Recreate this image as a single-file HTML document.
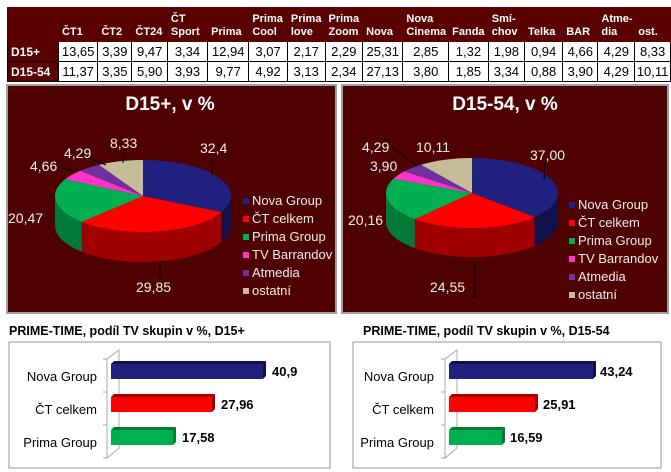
<!DOCTYPE html>
<html><head><meta charset="utf-8"><style>
body{margin:0;background:#fff;width:671px;height:472px;overflow:hidden;font-family:"Liberation Sans",sans-serif}
table{position:absolute;left:7px;top:7px;border-collapse:collapse;font-size:12px}
td{border:1px solid #000;padding:0;height:19px;text-align:center;font-size:13px}
tr.h td{background:#5a0000;color:#fff;font-weight:bold;height:31px;text-align:left;vertical-align:bottom;font-size:11px;line-height:13px;padding-left:3px;padding-bottom:2px;border-color:#5a0000}
td.r{background:#5a0000;color:#fff;font-weight:bold;text-align:left;padding-left:3px;font-size:12px}
svg{position:absolute;left:0;top:0}
</style></head><body>
<table>
<tr class="h"><td style="width:49px"></td><td style="width:36px">ČT1</td><td style="width:31px">ČT2</td><td style="width:32px">ČT24</td><td style="width:37px">ČT<br>Sport</td><td style="width:38px">Prima</td><td style="width:35px">Prima<br>Cool</td><td style="width:34px">Prima<br>love</td><td style="width:34px">Prima<br>Zoom</td><td style="width:37px">Nova</td><td style="width:42px">Nova<br>Cinema</td><td style="width:36px">Fanda</td><td style="width:33px">Smí-<br>chov</td><td style="width:35px">Telka</td><td style="width:32px">BAR</td><td style="width:33px">Atme-<br>dia</td><td style="width:32px">ost.</td></tr>
<tr><td class="r">D15+</td><td>13,65</td><td>3,39</td><td>9,47</td><td>3,34</td><td>12,94</td><td>3,07</td><td>2,17</td><td>2,29</td><td>25,31</td><td>2,85</td><td>1,32</td><td>1,98</td><td>0,94</td><td>4,66</td><td>4,29</td><td>8,33</td></tr>
<tr><td class="r">D15-54</td><td>11,37</td><td>3,35</td><td>5,90</td><td>3,93</td><td>9,77</td><td>4,92</td><td>3,13</td><td>2,34</td><td>27,13</td><td>3,80</td><td>1,85</td><td>3,34</td><td>0,88</td><td>3,90</td><td>4,29</td><td>10,11</td></tr>
</table>
<svg width="671" height="472" xmlns="http://www.w3.org/2000/svg" font-family="Liberation Sans, sans-serif">
<rect x="7" y="85" width="329" height="228" fill="#4f0000" stroke="#a0a0a0" stroke-width="2"/>
<rect x="342" y="85" width="326" height="228" fill="#4f0000" stroke="#a0a0a0" stroke-width="2"/>
<g id="p1"></g><g id="p2"></g>
<g fill="#fff" font-size="19" font-weight="bold" text-anchor="middle">
<text x="170" y="110">D15+, v %</text><text x="505" y="110">D15-54, v %</text></g>
<g fill="#eee" font-size="14">
<text x="200" y="153">32,4</text><text x="110" y="148">8,33</text><text x="64" y="158">4,29</text><text x="30" y="171">4,66</text><text x="8" y="223">20,47</text><text x="136" y="292">29,85</text>
<text x="530" y="160">37,00</text><text x="416" y="152">10,11</text><text x="362" y="152">4,29</text><text x="370" y="171">3,90</text><text x="348" y="225">20,16</text><text x="430" y="292">24,55</text>
</g>
<g stroke="#000" stroke-width="1" fill="none">
<path d="M212 158 L212 175"/><path d="M124 150 L123 163"/><path d="M90 158 L106 165"/><path d="M62 168 L77 172"/><path d="M160 262 L160 278"/>
<path d="M545 162 L544 180"/><path d="M392 147 L417 166"/><path d="M475 262 L475 297 L470 297"/>
</g>
<g font-size="13" fill="#eee">
<rect x="243" y="198" width="6" height="6" fill="#20207f"/><text x="252" y="205">Nova Group</text>
<rect x="243" y="216" width="6" height="6" fill="#f00"/><text x="252" y="223">ČT celkem</text>
<rect x="243" y="234" width="6" height="6" fill="#00b050"/><text x="252" y="241">Prima Group</text>
<rect x="243" y="252" width="6" height="6" fill="#ff33cc"/><text x="252" y="259">TV Barrandov</text>
<rect x="243" y="270" width="6" height="6" fill="#7030a0"/><text x="252" y="277">Atmedia</text>
<rect x="243" y="288" width="6" height="6" fill="#c4bd97"/><text x="252" y="295">ostatní</text>
<rect x="569" y="202" width="6" height="6" fill="#20207f"/><text x="578" y="209">Nova Group</text>
<rect x="569" y="220" width="6" height="6" fill="#f00"/><text x="578" y="227">ČT celkem</text>
<rect x="569" y="238" width="6" height="6" fill="#00b050"/><text x="578" y="245">Prima Group</text>
<rect x="569" y="256" width="6" height="6" fill="#ff33cc"/><text x="578" y="263">TV Barrandov</text>
<rect x="569" y="274" width="6" height="6" fill="#7030a0"/><text x="578" y="281">Atmedia</text>
<rect x="569" y="292" width="6" height="6" fill="#c4bd97"/><text x="578" y="299">ostatní</text>
</g>
<g font-size="12.5" font-weight="bold" fill="#000">
<text x="9" y="335">PRIME-TIME, podíl TV skupin v %, D15+</text>
<text x="363" y="335">PRIME-TIME, podíl TV skupin v %, D15-54</text></g>
<rect x="9" y="342" width="321" height="126" fill="#fff" stroke="#999"/>
<rect x="353" y="342" width="308" height="126" fill="#fff" stroke="#999"/>
<g stroke="#aaa" fill="none"><path d="M107 359 L107 458 L119 448 L119 350 L107 359"/><path d="M445 359 L445 458 L457 448 L457 350 L445 359"/>
<path d="M103 359h4M103 392h4M103 425h4M103 458h4M441 359h4M441 392h4M441 425h4M441 458h4"/></g>
<g id="bars"></g>
<g font-size="13" fill="#000" text-anchor="end">
<text x="97" y="381">Nova Group</text><text x="97" y="414">ČT celkem</text><text x="97" y="447">Prima Group</text>
<text x="434" y="381">Nova Group</text><text x="434" y="414">ČT celkem</text><text x="434" y="447">Prima Group</text></g>
<g font-size="13" font-weight="bold" fill="#000">
<text x="272" y="376">40,9</text><text x="221" y="409">27,96</text><text x="182" y="442">17,58</text>
<text x="600" y="376">43,24</text><text x="543" y="409">25,91</text><text x="510" y="442">16,59</text></g>
</svg>
<script>
var C=["#20207f","#ff0000","#00b050","#ff33cc","#7030a0","#c4bd97"],D=["#10104a","#a00000","#007a38","#b0208e","#4a1e70","#8a8468"];
function pie(id,cx,cy,rx,ry,h,v){var g=document.getElementById(id),s="",a=-Math.PI/2,ang=[];
for(var i=0;i<v.length;i++){var b=a+v[i]/100*2*Math.PI;ang.push([a,b]);a=b;}
function P(t,dy){return (cx+rx*Math.cos(t)).toFixed(2)+" "+(cy+ry*Math.sin(t)+(dy||0)).toFixed(2);}
for(i=0;i<v.length;i++){var a0=ang[i][0],a1=ang[i][1];
 [[0,Math.PI],[2*Math.PI,3*Math.PI]].forEach(function(r){var s0=Math.max(a0,r[0]),s1=Math.min(a1,r[1]);
  if(s1>s0){s+='<path d="M'+P(s0)+' A'+rx+' '+ry+' 0 0 1 '+P(s1)+' L'+P(s1,h)+' A'+rx+' '+ry+' 0 0 0 '+P(s0,h)+' Z" fill="'+D[i]+'"/>';}});}
for(i=0;i<v.length;i++){var a0=ang[i][0],a1=ang[i][1],lg=(a1-a0)>Math.PI?1:0;
 s+='<path d="M'+cx+' '+cy+' L'+P(a0)+' A'+rx+' '+ry+' 0 '+lg+' 1 '+P(a1)+' Z" fill="'+C[i]+'"/>';}
g.innerHTML=s;}
pie("p1",143,196,88,36,30,[32.4,29.85,20.47,4.66,4.29,8.33]);
pie("p2",472,193,86,35,29,[37,24.55,20.16,3.9,4.29,10.11]);
var bs="",B=[[111,364,263,0],[111,397,212,1],[111,430,173,2],[449,364,593,0],[449,397,535,1],[449,430,502,2]];
B.forEach(function(b){var x=b[0],y=b[1],e=b[2],i=b[3];
bs+='<path d="M'+x+' '+y+' L'+(x+3)+' '+(y-3)+' L'+(e+3)+' '+(y-3)+' L'+e+' '+y+' Z" fill="'+D[i]+'"/>';
bs+='<path d="M'+e+' '+y+' L'+(e+3)+' '+(y-3)+' L'+(e+3)+' '+(y+12)+' L'+e+' '+(y+15)+' Z" fill="'+D[i]+'"/>';
bs+='<rect x="'+x+'" y="'+y+'" width="'+(e-x)+'" height="15" fill="'+C[i]+'"/>';});
document.getElementById("bars").innerHTML=bs;
</script>
</body></html>
